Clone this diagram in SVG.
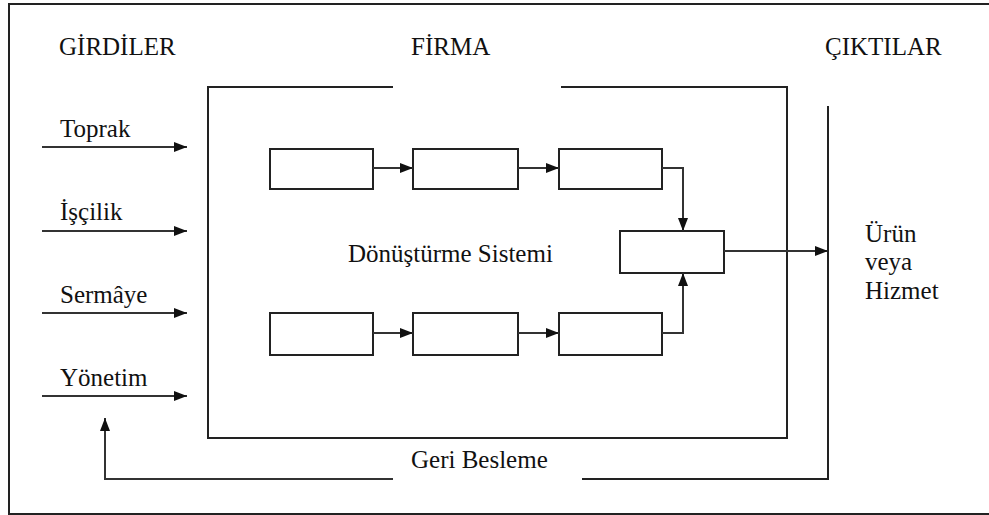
<svg xmlns="http://www.w3.org/2000/svg" width="989" height="515" viewBox="0 0 989 515">
  <defs>
    <marker id="arrow" viewBox="0 0 13 10" refX="13" refY="5" markerWidth="13" markerHeight="10" markerUnits="userSpaceOnUse" orient="auto">
      <path d="M0,0 L13,5 L0,10 Z" fill="#111"/>
    </marker>
    <style>
      .frame { fill: none; stroke: #222; stroke-width: 2; }
      .line { fill: none; stroke: #222; stroke-width: 2; }
      .box { fill: #fff; stroke: #222; stroke-width: 2; }
      .conn { fill: none; stroke: #333; stroke-width: 2; }
      .arr { marker-end: url(#arrow); }
      .lbl { font-size: 25px; fill: #111; }
    </style>
  </defs>
  <rect width="989" height="515" fill="#fff"/>

  <!-- outer border -->
  <path class="frame" d="M995,4 H9 V514 H995"/>

  <g font-family="Liberation Serif, Times New Roman, DejaVu Serif, serif">
    <!-- column headings -->
    <text class="lbl" x="59" y="55">GİRDİLER</text>
    <text class="lbl" x="411" y="55">FİRMA</text>
    <text class="lbl" x="825" y="55">ÇIKTILAR</text>

    <!-- firm boundary with a gap under the heading -->
    <g id="firm">
      <path class="line" d="M393,87 H208 V438 H787 V87 H561"/>
      <text class="lbl" x="348" y="262">Dönüştürme Sistemi</text>
    </g>

    <!-- input labels -->
    <g id="inputs">
      <text class="lbl" x="60" y="137">Toprak</text>
      <text class="lbl" x="60" y="220">İşçilik</text>
      <text class="lbl" x="60" y="303">Sermâye</text>
      <text class="lbl" x="60" y="386">Yönetim</text>
    </g>

    <!-- process boxes -->
    <g id="top1"><rect class="box" x="270" y="149" width="103" height="40"/></g>
    <g id="top2"><rect class="box" x="413" y="149" width="105" height="40"/></g>
    <g id="top3"><rect class="box" x="559" y="149" width="103" height="40"/></g>
    <g id="bot1"><rect class="box" x="270" y="313" width="103" height="42"/></g>
    <g id="bot2"><rect class="box" x="413" y="313" width="105" height="42"/></g>
    <g id="bot3"><rect class="box" x="559" y="313" width="103" height="42"/></g>
    <g id="merge"><rect class="box" x="620" y="231" width="104" height="42"/></g>

    <!-- output label -->
    <g id="outputs">
      <text class="lbl" x="865" y="242">Ürün</text>
      <text class="lbl" x="865" y="270">veya</text>
      <text class="lbl" x="865" y="299">Hizmet</text>
    </g>

    <!-- feedback label -->
    <g id="feedback">
      <text class="lbl" x="411" y="468">Geri Besleme</text>
    </g>
  </g>

  <g id="connectors">
    <!-- inputs into the firm -->
    <path class="conn arr" d="M42,147 H187"/>
    <path class="conn arr" d="M42,231 H187"/>
    <path class="conn arr" d="M42,313 H187"/>
    <path class="conn arr" d="M42,396 H187"/>

    <!-- top chain -->
    <path class="conn arr" d="M373,168 H413"/>
    <path class="conn arr" d="M518,168 H559"/>
    <path class="conn arr" d="M662,168 H683 V231"/>

    <!-- bottom chain -->
    <path class="conn arr" d="M373,333 H413"/>
    <path class="conn arr" d="M518,333 H559"/>
    <path class="conn arr" d="M662,333 H683 V273"/>

    <!-- output -->
    <path class="conn arr" d="M724,251 H828"/>

    <!-- output boundary and feedback loop -->
    <path class="line" d="M828,106 V479 H582"/>
    <path class="conn arr" d="M393,479 H105 V418"/>
  </g>
</svg>
